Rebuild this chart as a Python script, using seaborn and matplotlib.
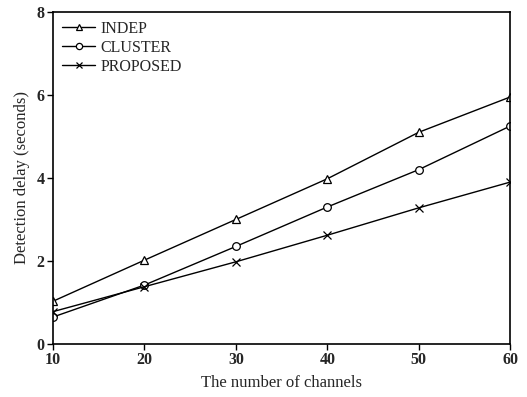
import matplotlib
matplotlib.use("Agg")
import matplotlib.pyplot as plt
import seaborn as sns

channels = [10, 20, 30, 40, 50, 60]
indep = [1.03, 2.02, 3.00, 3.98, 5.10, 5.95]
cluster = [0.65, 1.42, 2.35, 3.30, 4.20, 5.25]
proposed = [0.78, 1.38, 1.98, 2.62, 3.28, 3.90]
series_names = ["INDEP", "CLUSTER", "PROPOSED"]
series_markers = ["^", "o", "x"]

sns.set_style("white")
plt.rcParams["font.family"] = ["Liberation Serif", "DejaVu Serif"]

fig = plt.figure(figsize=(5.27, 3.97), dpi=100)
ax = fig.add_axes([0.1006, 0.1335, 0.8674, 0.8365])

for name, vals, m in zip(series_names, [indep, cluster, proposed], series_markers):
    sns.lineplot(x=channels, y=vals, ax=ax, color="black", linewidth=1.0,
                 marker=m, markersize=5.5, markerfacecolor="white",
                 markeredgecolor="black", markeredgewidth=0.9, label=name)

ax.set_xlim(10, 60)
ax.set_ylim(0, 8)
ax.set_xticks(channels)
ax.set_yticks([0, 2, 4, 6, 8])
for lab in ax.get_xticklabels() + ax.get_yticklabels():
    lab.set_fontweight("bold")
    lab.set_fontsize(11.5)
ax.tick_params(direction="out", length=4, width=1, color="black", pad=2,
               bottom=True, left=True)
for s in ax.spines.values():
    s.set_color("black")
    s.set_linewidth(1.2)
ax.set_xlabel("The number of channels", fontsize=12, labelpad=5)
ax.set_ylabel("Detection delay (seconds)", fontsize=12, labelpad=5)

leg = ax.legend(loc="upper left", frameon=False, fontsize=11.5, handlelength=2.1,
                borderaxespad=0.3, labelspacing=0.2, handletextpad=0.3,
                borderpad=0.25)
for h in leg.legend_handles:
    h.set_markersize(4.5)

fig.savefig("out.png", dpi=100)
